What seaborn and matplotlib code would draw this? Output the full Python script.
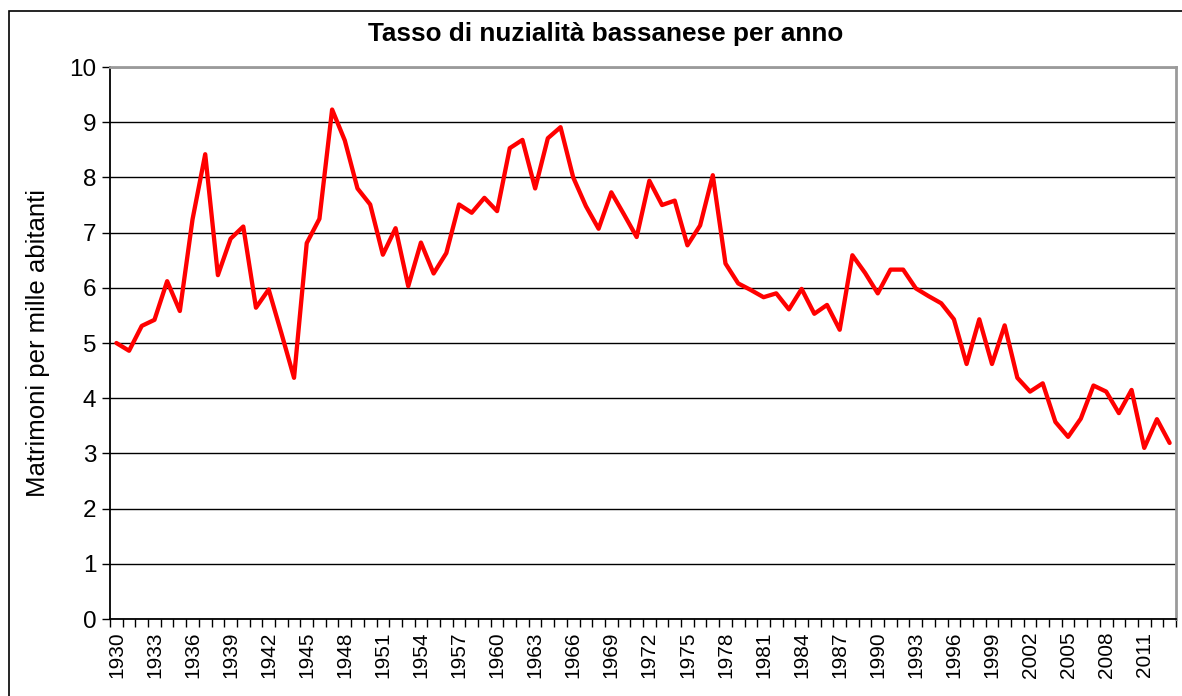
import numpy as np
import pandas as pd
import matplotlib
matplotlib.use("Agg")
import matplotlib.pyplot as plt
import seaborn as sns

# Marriage rate (per thousand inhabitants), Bassano, 1930-2013
years = list(range(1930, 2014))
rates = [
    5.00, 4.86, 5.31, 5.42, 6.12, 5.58, 7.24, 8.42, 6.23, 6.89,
    7.11, 5.64, 5.97, 5.18, 4.37, 6.81, 7.25, 9.23, 8.67, 7.80,
    7.51, 6.60, 7.08, 6.03, 6.82, 6.26, 6.63, 7.51, 7.36, 7.63,
    7.39, 8.53, 8.68, 7.80, 8.71, 8.91, 8.00, 7.48, 7.07, 7.73,
    7.33, 6.92, 7.94, 7.50, 7.58, 6.77, 7.13, 8.04, 6.44, 6.08,
    5.96, 5.83, 5.90, 5.61, 5.98, 5.53, 5.69, 5.24, 6.59, 6.27,
    5.90, 6.33, 6.33, 5.99, 5.85, 5.72, 5.43, 4.62, 5.43, 4.62,
    5.32, 4.37, 4.12, 4.27, 3.57, 3.30, 3.63, 4.23, 4.12, 3.73,
    4.15, 3.10, 3.62, 3.19,
]
title = "Tasso di nuzialità bassanese per anno"
ylabel = "Matrimoni per mille abitanti"

df = pd.DataFrame({"pos": np.arange(len(years)), "anno": years, "tasso": rates})

sns.set_theme(style="white")
plt.rcParams["font.family"] = ["Liberation Sans", "DejaVu Sans"]
plt.rcParams.update({
    "text.color": "black",
    "axes.labelcolor": "black",
    "xtick.color": "black",
    "ytick.color": "black",
})

fig = plt.figure(figsize=(11.82, 6.96), dpi=100)
ax = fig.add_axes([0.0931, 0.1106, 0.9018, 0.7931])

# outer chart frame
fig.patches.append(plt.Rectangle((0.0076, -0.05), 1.2, 1.034, transform=fig.transFigure,
                                 fill=False, edgecolor="black", linewidth=1.2, zorder=0))

sns.lineplot(data=df, x="pos", y="tasso", ax=ax, color="#ff0000", linewidth=3.1)

ax.set_ylim(0, 10)
ax.set_yticks(range(0, 11))
ax.set_yticklabels([str(v) for v in range(0, 11)], fontsize=17.5)
ax.yaxis.grid(True, color="black", linewidth=1.0)
ax.set_axisbelow(True)

n = len(years)
ax.set_xlim(-0.5, n - 0.5)
ax.set_xticks(np.arange(-0.5, n, 1.0), minor=True)
ax.set_xticks(np.arange(0, n, 3))
ax.set_xticklabels([str(years[i]) for i in range(0, n, 3)], rotation=90, fontsize=15)
ax.tick_params(axis="x", which="major", length=0, pad=9)
ax.tick_params(axis="x", which="minor", bottom=True, length=6, width=1, color="black")
ax.tick_params(axis="y", which="major", left=True, length=6, width=1, color="black", pad=4)

ax.set_xlabel("")
ax.set_ylabel(ylabel, fontsize=18.5, labelpad=14)

# chart title, centred on the chart area
fig.text(0.512, 0.951, title, fontsize=18.8, fontweight="bold", ha="center", va="center")

for side in ("left", "bottom"):
    ax.spines[side].set_color("black")
    ax.spines[side].set_linewidth(1.3)
for side in ("top", "right"):
    ax.spines[side].set_color("#9a9a9a")
    ax.spines[side].set_linewidth(2)

fig.savefig("out.png", dpi=100, facecolor="white")
